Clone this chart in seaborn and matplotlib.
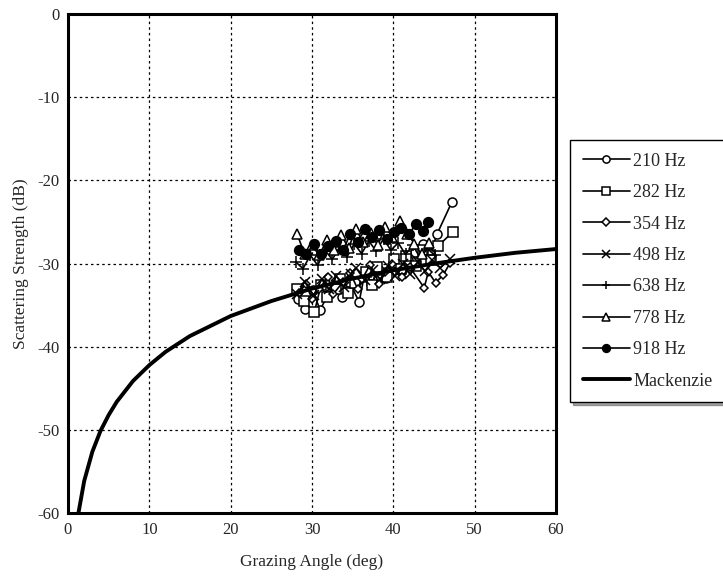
import matplotlib
matplotlib.use('Agg')
import pandas as pd
import matplotlib.pyplot as plt
import seaborn as sns

# angles (deg) and scattering strengths (dB)
x_210 = [28.3, 29.2, 30.1, 31.0, 31.9, 32.8, 33.7, 34.6, 35.8, 36.4, 37.3, 38.2, 39.1, 40.0, 40.9, 41.8, 42.7, 43.6, 44.5, 45.4, 47.2]
y_210 = [-34.3, -35.5, -33.2, -35.6, -33.8, -32.5, -34.0, -32.2, -34.6, -31.6, -32.4, -30.8, -31.7, -29.9, -30.9, -29.6, -28.6, -27.6, -28.9, -26.4, -22.6]

x_282 = [28.1, 29.0, 30.3, 31.1, 31.8, 32.9, 33.5, 34.4, 35.3, 36.6, 37.4, 38.0, 39.2, 40.1, 41.0, 41.6, 42.8, 43.7, 44.6, 45.5, 47.3]
y_282 = [-33.0, -34.5, -35.8, -32.6, -34.0, -33.1, -31.9, -33.5, -32.3, -31.0, -32.6, -30.4, -31.6, -29.5, -30.7, -29.1, -30.3, -28.4, -29.6, -27.9, -26.2]

x_354 = [28.4, 29.3, 30.0, 30.9, 32.0, 32.6, 33.8, 34.7, 35.6, 36.2, 37.1, 38.3, 39.0, 39.8, 41.1, 42.0, 43.8, 44.3, 45.2, 46.1, 47.0]
y_354 = [-33.5, -32.4, -34.3, -33.0, -31.6, -33.7, -32.2, -31.1, -33.0, -31.8, -30.2, -32.4, -31.0, -30.1, -31.6, -30.4, -32.9, -31.0, -32.3, -31.4, -29.9]

x_498 = [28.2, 29.1, 30.2, 31.2, 32.1, 33.0, 33.9, 34.8, 35.4, 36.5, 37.5, 38.4, 39.3, 40.2, 41.2, 42.1, 43.0, 43.9, 44.8, 45.8, 47.0]
y_498 = [-33.6, -32.2, -33.8, -31.9, -33.1, -31.5, -32.8, -31.2, -30.5, -32.0, -30.8, -31.9, -30.3, -31.5, -30.0, -31.3, -29.8, -30.9, -29.6, -30.5, -29.4]

x_638 = [28.0, 28.9, 29.8, 30.7, 31.6, 32.5, 33.4, 34.3, 35.2, 36.1, 37.0, 37.9, 38.8, 39.7, 40.6, 41.5, 42.4, 43.3, 44.2, 45.1]
y_638 = [-29.8, -30.6, -29.0, -30.2, -28.4, -29.5, -28.0, -29.2, -27.6, -28.8, -27.3, -28.5, -27.0, -28.4, -27.5, -28.9, -27.8, -29.3, -28.2, -29.0]

x_778 = [28.2, 29.1, 30.0, 30.9, 31.8, 32.7, 33.6, 34.5, 35.4, 36.3, 37.2, 38.1, 39.0, 39.9, 40.8, 41.7, 42.6, 43.5, 44.4]
y_778 = [-26.5, -28.9, -27.8, -29.0, -27.2, -28.4, -26.6, -28.1, -25.9, -27.4, -26.3, -27.8, -25.6, -26.8, -24.9, -26.4, -27.6, -28.9, -27.5]

x_918 = [28.4, 29.3, 30.2, 31.1, 32.0, 32.9, 33.8, 34.7, 35.6, 36.5, 37.4, 38.3, 39.2, 40.1, 41.0, 41.9, 42.8, 43.7, 44.3]
y_918 = [-28.4, -28.8, -27.7, -28.9, -27.9, -27.3, -28.4, -26.5, -27.4, -25.9, -26.8, -26.0, -27.1, -26.2, -25.7, -26.5, -25.2, -26.1, -25.0]

# Mackenzie curve
mack_x = [1.3, 2, 3, 4, 5, 6, 8, 10, 12, 15, 20, 25, 30, 35, 40, 45, 50, 55, 60]
mack_y = [-59.9, -56.1, -52.6, -50.1, -48.2, -46.6, -44.1, -42.2, -40.6, -38.7,
          -36.3, -34.5, -33.0, -31.8, -30.8, -30.0, -29.3, -28.7, -28.25]

series = [
    ('210 Hz', x_210, y_210, 'o', 'white', 6.5),
    ('282 Hz', x_282, y_282, 's', 'white', 6.5),
    ('354 Hz', x_354, y_354, 'D', 'white', 4.5),
    ('498 Hz', x_498, y_498, 'x', 'black', 7),
    ('638 Hz', x_638, y_638, '+', 'black', 8),
    ('778 Hz', x_778, y_778, '^', 'white', 7),
    ('918 Hz', x_918, y_918, 'o', 'black', 7),
]

sns.set_style('white')
plt.rcParams['font.family'] = ['Liberation Serif', 'DejaVu Serif']
plt.rcParams['axes.unicode_minus'] = False

fig = plt.figure(figsize=(7.23, 5.8), dpi=100)
ax = fig.add_axes([0.094, 0.115, 0.675, 0.861])

for name, xs, ys, mk, fc, ms in series:
    df = pd.DataFrame({'angle': xs, 'ss': ys})
    sns.lineplot(data=df, x='angle', y='ss', ax=ax, color='black', lw=1.2,
                 marker=mk, markersize=ms, markerfacecolor=fc,
                 markeredgecolor='black', markeredgewidth=1.1,
                 sort=False, label=name)

mdf = pd.DataFrame({'angle': mack_x, 'ss': mack_y})
sns.lineplot(data=mdf, x='angle', y='ss', ax=ax, color='black', lw=2.8,
             sort=False, label='Mackenzie')

ax.set_xlim(0, 60)
ax.set_ylim(-60, 0)
ax.set_xticks(range(0, 61, 10))
ax.set_yticks(range(-60, 1, 10))
ax.grid(True, color='black', linestyle=(0, (2, 2.5)), lw=0.9)
ax.set_axisbelow(True)
for s in ax.spines.values():
    s.set_linewidth(2.2)
    s.set_color('black')
ax.tick_params(length=0, labelsize=12, pad=6)
ax.set_xlabel('Grazing Angle (deg)', fontsize=12.5, labelpad=12)
ax.set_ylabel('Scattering Strength (dB)', fontsize=12.5, labelpad=6)

handles, labels = ax.get_legend_handles_labels()
ax.legend(handles, labels, loc='upper left',
          bbox_to_anchor=(570 / 723, 1 - 140 / 580), bbox_transform=fig.transFigure,
          fontsize=13, frameon=True, fancybox=False, shadow=True,
          edgecolor='black', framealpha=1, handlelength=2.6,
          markerscale=0.8, labelspacing=0.8, borderpad=0.7,
          borderaxespad=0.0, handletextpad=0.2)

plt.savefig('out.png', dpi=100)
